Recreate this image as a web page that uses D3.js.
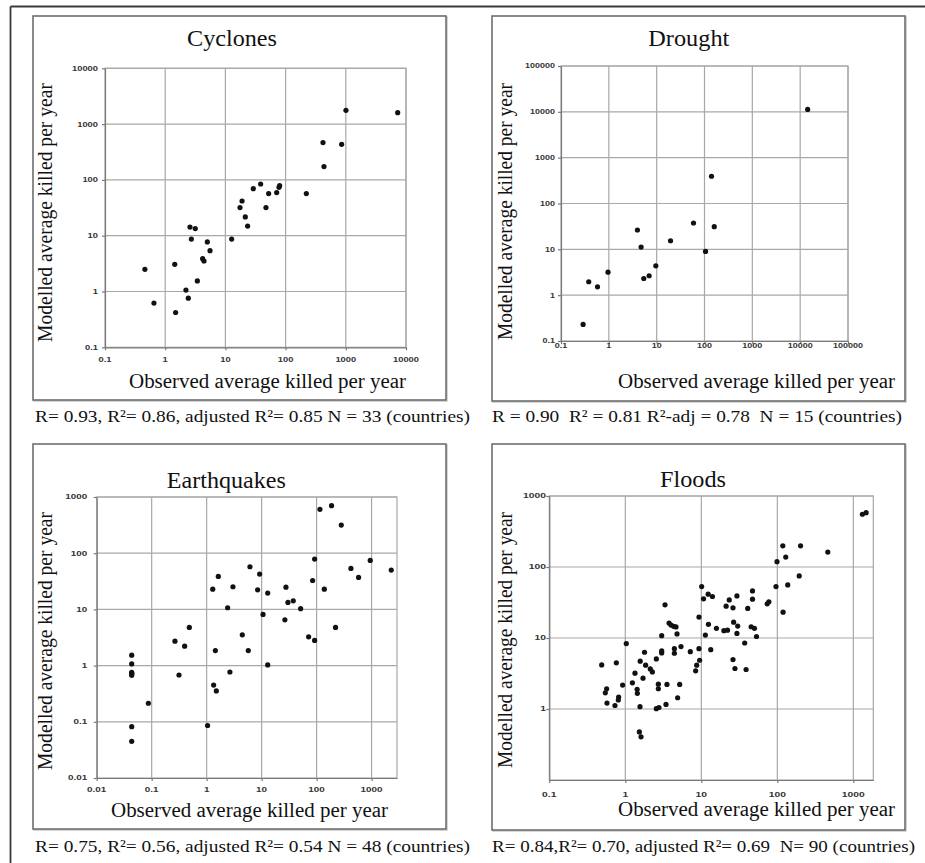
<!DOCTYPE html>
<html><head><meta charset="utf-8">
<script src="https://cdn.jsdelivr.net/npm/d3@7"></script>
<style>
body{margin:0;background:#fff}
svg{display:block}
</style>
</head><body>
<svg id="chart" width="925" height="863"></svg>
<script>
// ---------- DATA ----------
const cycloneObserved = [0.46,0.65,1.44,1.49,2.21,2.42,2.58,3.16,2.72,3.42,4.19,4.41,5.01,5.55,12.7,17.5,18.9,21.4,23.4,29.1,38.5,47.2,52.3,71.1,77.7,79.6,221,418,434,853,1006,7280];
const cycloneModelled = [2.5,0.62,3.07,0.42,1.06,0.76,14.3,13.4,8.7,1.55,3.88,3.52,7.73,5.39,8.7,31.9,41.9,21.7,14.9,69.7,84.5,31.9,56.8,59.2,73.6,78.8,56.8,466,173,434,1767,1603];

const droughtObserved = [0.29,0.38,0.58,0.96,3.96,4.73,5.38,6.96,9.6,19.5,58.9,105,140,160,14360];
const droughtModelled = [0.23,1.96,1.52,3.18,26.4,11.2,2.31,2.65,4.37,15.4,37.5,9.0,393,31.2,11270];

const quakeObserved = [0.0433,0.0433,0.0433,0.0433,0.0433,0.0433,0.0433,0.0433,0.087,0.265,0.314,0.398,0.484,1.04,1.29,1.34,1.5,1.44,1.63,2.41,2.65,3.01,4.45,5.72,6.13,8.46,9.2,10.6,12.9,12.9,26.5,27.7,30.1,37.6,51.2,71.6,84.6,92,92,115,138,187,221,281,421,580,946,2280];
const quakeModelled = [1.53,1.07,0.76,0.73,0.71,0.67,0.082,0.045,0.214,2.72,0.68,2.22,4.77,0.086,22.9,0.45,0.355,1.85,38.6,10.7,0.77,25.3,3.53,1.85,57.4,22.3,42.5,8.13,19.5,1.03,6.53,24.9,13.3,14.2,10.3,3.25,32.7,78.5,2.8,603,22.9,701,4.77,317,53.6,37.1,74.5,50.1];

const floodObserved = [0.489,0.762,1.03,0.568,0.546,0.574,0.731,0.817,0.809,0.922,1.24,1.34,1.43,1.44,1.57,1.56,1.71,1.79,1.85,2.13,2.27,2.56,2.72,2.72,2.56,2.77,3.01,3.01,3.01,3.33,3.43,3.53,3.76,3.99,4.33,4.64,4.79,4.42,4.42,5.4,5.19,4.88,7.16,8.69,8.42,9.31,9.31,1.53,1.61,
  10.1,10.7,12.3,14.0,11.3,12.4,9.5,13.3,15.8,19.8,22.1,21.2,23.3,26.1,29.4,26.6,30.1,29.4,26.1,27.7,37.2,38.8,40.8,47.1,47.1,45.2,50,53.2,73.6,77.4,96,99,118,129,119,137,194,202,461,1315,1472];
const floodModelled = [4.18,4.47,8.34,1.93,1.69,1.21,1.12,1.47,1.34,2.17,2.34,3.2,1.89,1.66,4.71,1.08,2.72,6.3,4.14,3.67,3.33,5.08,2.24,1.93,1.01,1.05,6.17,6.58,10.8,29.3,1.16,2.22,16.2,15.2,14.6,14.3,11.4,7.08,6.1,7.57,2.22,1.44,6.42,4.14,3.45,7.08,19.7,0.476,0.405,
  53,35.6,41.4,38.4,11.0,15.6,4.86,6.85,13.7,12.7,12.9,28.1,34.4,26.6,39.2,16.7,14.7,11.6,4.97,3.72,8.51,3.6,26.1,46.1,35.2,14.4,13.7,10.5,30.3,32.3,53,119,199,138,23.1,56,74.8,199,162,553,583];

const cycloneTicks = ["0.1","1","10","100","1000","10000"];
const droughtTicks = ["0.1","1","10","100","1000","10000","100000"];
const quakeTicksX = ["0.01","0.1","1","10","100","1000"];
const quakeTicksY = ["0.01","0.1","1","10","100","1000"];
const floodTicksX = ["0.1","1","10","100","1000"];
const floodTicksY = ["1","10","100","1000"];

const titles = ["Cyclones","Drought","Earthquakes","Floods"];
const xAxisTitle = "Observed average killed per year";
const yAxisTitle = "Modelled average killed per year";
const captions = [
  "R= 0.93, R²= 0.86, adjusted R²= 0.85 N = 33 (countries)",
  "R = 0.90  R² = 0.81 R²-adj = 0.78  N = 15 (countries)",
  "R= 0.75, R²= 0.56, adjusted R²= 0.54 N = 48 (countries)",
  "R= 0.84,R²= 0.70, adjusted R²= 0.69  N= 90 (countries)"
];

// ---------- LAYOUT ----------
const SERIF = "'Liberation Serif','DejaVu Serif','Times New Roman',serif";
const SANS = "'Liberation Sans','DejaVu Sans',Arial,sans-serif";
const panels = [
  {title:titles[0], obs:cycloneObserved, mod:cycloneModelled, xTicks:cycloneTicks, yTicks:cycloneTicks,
   xDom:[0.1,10000], yDom:[0.1,10000], box:[33,16,446,400], plot:[105,68.3,406,347.3],
   tX:232, tY:45.7, tW:90, xl:[129,388,277], yl:[52,212.5,259], yTR:98, xTY:361.7, cw:5.2,
   cap:[35,421.5,435,captions[0]]},
  {title:titles[1], obs:droughtObserved, mod:droughtModelled, xTicks:droughtTicks, yTicks:droughtTicks,
   xDom:[0.1,100000], yDom:[0.1,100000], box:[492,16,905,401], plot:[561,66,848,341],
   tX:688.8, tY:45.7, tW:81, xl:[618,388,277], yl:[511.7,211.5,257], yTR:555, xTY:347.7, cw:5.0,
   cap:[492,421.5,410,captions[1]]},
  {title:titles[2], obs:quakeObserved, mod:quakeModelled, xTicks:quakeTicksX, yTicks:quakeTicksY,
   xDom:[0.01,2900], yDom:[0.01,1000], box:[33,444,446,829], plot:[96.7,497,397,778],
   tX:226.3, tY:488, tW:119, xl:[111,816.7,277], yl:[52,641,258], yTR:87.3, xTY:792.3, cw:5.5,
   cap:[35,851.5,435,captions[2]]},
  {title:titles[3], obs:floodObserved, mod:floodModelled, xTicks:floodTicksX, yTicks:floodTicksY,
   xDom:[0.1,1830], yDom:[0.1,1000], box:[492,444,905,830], plot:[549.3,496,873.3,780],
   tX:693, tY:486.7, tW:66, xl:[618,816,277], yl:[511.7,640,256], yTR:546, xTY:797.3, cw:5.75,
   cap:[492,851.5,423,captions[3]]}
];

const svg = d3.select("#chart");

// outer frame (top and left edges)
svg.append("line").attr("x1",10.5).attr("x2",925).attr("y1",6.5).attr("y2",6.5).attr("stroke","#3a3a3a").attr("stroke-width",1.8);
svg.append("line").attr("x1",10.5).attr("x2",10.5).attr("y1",6.5).attr("y2",863).attr("stroke","#3a3a3a").attr("stroke-width",1.8);

function labW(s, cw){ let w=0; for(const c of s){ w += (c===".")? cw*0.5 : cw; } return w; }

function serifText(g, size){
  return g.append("text").attr("font-family",SERIF).attr("font-size",size).attr("fill","#111")
    .attr("lengthAdjust","spacingAndGlyphs");
}

panels.forEach(p => {
  const g = svg.append("g");
  const [bx0,by0,bx1,by1] = p.box;
  g.append("rect").attr("x",bx0+1).attr("y",by0+1).attr("width",bx1-bx0).attr("height",by1-by0)
    .attr("fill","none").attr("stroke","#c8c8c8").attr("stroke-width",1.5);
  g.append("rect").attr("x",bx0).attr("y",by0).attr("width",bx1-bx0).attr("height",by1-by0)
    .attr("fill","#fff").attr("stroke","#6e6e6e").attr("stroke-width",1.6);

  const [px0,py0,px1,py1] = p.plot;
  const xs = d3.scaleLog().domain(p.xDom).range([px0,px1]);
  const ys = d3.scaleLog().domain(p.yDom).range([py1,py0]);
  const xv = p.xTicks.map(Number), yv = p.yTicks.map(Number);

  // plot border
  g.append("rect").attr("x",px0).attr("y",py0).attr("width",px1-px0).attr("height",py1-py0)
    .attr("fill","none").attr("stroke","#a8a8a8").attr("stroke-width",1.2);
  // gridlines
  g.selectAll(null).data(xv.filter(v=>v>p.xDom[0])).enter().append("line")
    .attr("x1",d=>xs(d)).attr("x2",d=>xs(d)).attr("y1",py0).attr("y2",py1)
    .attr("stroke","#a8a8a8").attr("stroke-width",1.2);
  g.selectAll(null).data(yv.filter(v=>v>p.yDom[0])).enter().append("line")
    .attr("y1",d=>ys(d)).attr("y2",d=>ys(d)).attr("x1",px0).attr("x2",px1)
    .attr("stroke","#a8a8a8").attr("stroke-width",1.2);

  // axes
  const ax = g.append("g").attr("transform",`translate(0,${py1})`)
    .call(d3.axisBottom(xs).tickValues(xv).tickSize(3).tickSizeOuter(0).tickFormat(()=>""));
  const ay = g.append("g").attr("transform",`translate(${px0},0)`)
    .call(d3.axisLeft(ys).tickValues(yv).tickSize(3).tickSizeOuter(0).tickFormat(()=>""));
  [ax,ay].forEach(a=>{ a.selectAll("path,line").attr("stroke","#7a7a7a").attr("stroke-width",1.2); });

  // tick labels
  g.selectAll(null).data(p.xTicks).enter().append("text")
    .attr("font-family",SANS).attr("font-weight","bold").attr("font-size",6.5).attr("fill","#333")
    .attr("x",d=>xs(+d)).attr("y",p.xTY).attr("text-anchor","middle")
    .attr("textLength",d=>labW(d,p.cw)).attr("lengthAdjust","spacingAndGlyphs").text(d=>d);
  g.selectAll(null).data(p.yTicks).enter().append("text")
    .attr("font-family",SANS).attr("font-weight","bold").attr("font-size",6.5).attr("fill","#333")
    .attr("x",p.yTR).attr("y",d=>ys(+d)+2.4).attr("text-anchor","end")
    .attr("textLength",d=>labW(d,p.cw)).attr("lengthAdjust","spacingAndGlyphs").text(d=>d);

  // points
  g.selectAll(null).data(p.obs.map((o,i)=>[o,p.mod[i]])).enter().append("circle")
    .attr("cx",d=>xs(d[0])).attr("cy",d=>ys(d[1])).attr("r",2.6).attr("fill","#111");

  // title
  serifText(g,23).attr("x",p.tX).attr("y",p.tY).attr("text-anchor","middle")
    .attr("textLength",p.tW).text(p.title);
  // x axis title
  serifText(g,20).attr("x",p.xl[0]).attr("y",p.xl[1]).attr("textLength",p.xl[2]).text(xAxisTitle);
  // y axis title
  serifText(g,20).attr("transform",`translate(${p.yl[0]},${p.yl[1]}) rotate(-90)`)
    .attr("text-anchor","middle").attr("textLength",p.yl[2]).text(yAxisTitle);
  // caption
  serifText(g,17).attr("x",p.cap[0]).attr("y",p.cap[1]).attr("textLength",p.cap[2])
    .style("white-space","pre").text(p.cap[3]);
});
</script>
</body></html>
